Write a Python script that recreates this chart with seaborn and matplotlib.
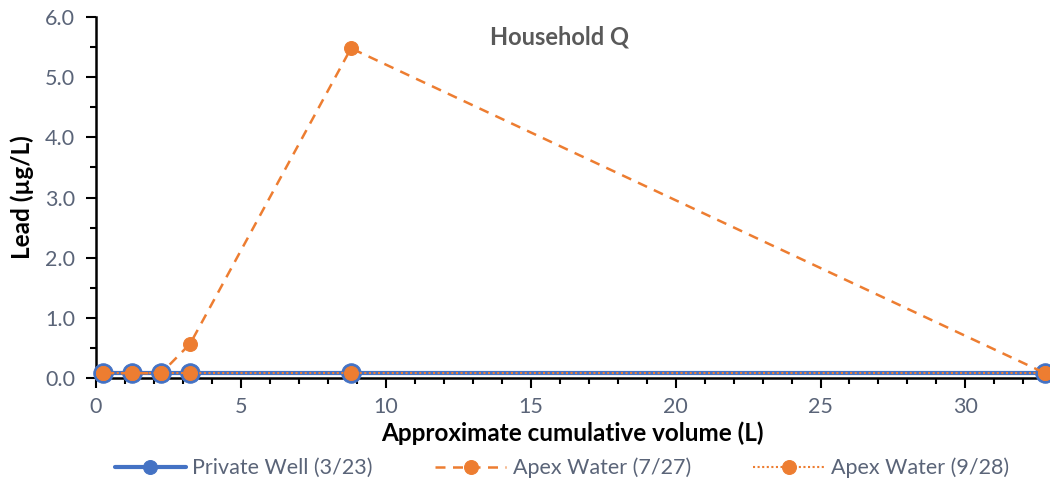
import matplotlib
matplotlib.use("Agg")
import matplotlib.pyplot as plt
import seaborn as sns
import pandas as pd
from matplotlib.ticker import MultipleLocator

volume = [0.25, 1.25, 2.25, 3.25, 8.8, 32.75]
private_well = [0.08, 0.08, 0.08, 0.08, 0.08, 0.08]
apex_0727 = [0.08, 0.08, 0.08, 0.57, 5.48, 0.08]
apex_0928 = [0.08, 0.08, 0.08, 0.08, 0.08, 0.08]
labels = ["Private Well (3/23)", "Apex Water (7/27)", "Apex Water (9/28)"]

sns.set_theme(style="white")
plt.rcParams["font.family"] = ["Lato", "DejaVu Sans"]

BLUE = "#4472C4"
ORANGE = "#ED7D31"
TICK = "#5a6478"

fig = plt.figure(figsize=(10.5, 4.86), dpi=100)
ax = fig.add_axes([96/1050, 1-378/486, (1048-96)/1050, (378-17)/486])

df1 = pd.DataFrame({"x": volume, "y": private_well})
df2 = pd.DataFrame({"x": volume, "y": apex_0727})
df3 = pd.DataFrame({"x": volume, "y": apex_0928})

sns.lineplot(data=df1, x="x", y="y", ax=ax, color=BLUE, lw=3, marker="o",
             markersize=14, markerfacecolor=BLUE, markeredgecolor=BLUE,
             label=labels[0], zorder=3, clip_on=False)
sns.lineplot(data=df2, x="x", y="y", ax=ax, color=ORANGE, lw=1.8, marker="o",
             markersize=10, markerfacecolor=ORANGE, markeredgecolor=ORANGE,
             dashes=(4, 3), label=labels[1], zorder=4, clip_on=False)
sns.lineplot(data=df3, x="x", y="y", ax=ax, color=ORANGE, lw=1.5, marker="o",
             markersize=10, markerfacecolor=ORANGE, markeredgecolor=ORANGE,
             dashes=(1, 1.2), label=labels[2], zorder=5, clip_on=False)

ax.set_xlim(0, 32.85)
ax.set_ylim(0, 6.0)
ax.xaxis.set_major_locator(MultipleLocator(5))
ax.xaxis.set_minor_locator(MultipleLocator(1))
ax.yaxis.set_major_locator(MultipleLocator(1))
ax.yaxis.set_minor_locator(MultipleLocator(0.5))
ax.yaxis.set_major_formatter(matplotlib.ticker.FormatStrFormatter("%.1f"))

for s in ["top", "right"]:
    ax.spines[s].set_visible(False)
for s in ["left", "bottom"]:
    ax.spines[s].set_color("black")
    ax.spines[s].set_linewidth(1.8)

ax.tick_params(axis="both", which="major", direction="out", length=7, width=1.5,
               color="black", labelsize=15.5, labelcolor=TICK, bottom=True, left=True)
ax.tick_params(axis="both", which="minor", direction="out", length=4, width=1.5,
               color="black", bottom=True, left=True)
ax.tick_params(axis="x", which="major", pad=7)
ax.tick_params(axis="y", which="major", pad=8)

ax.set_xlabel("Approximate cumulative volume (L)", fontsize=17.5, fontweight="bold",
              color="black", labelpad=3)
ax.set_ylabel("Lead (µg/L)", fontsize=17.5, fontweight="bold", color="black", labelpad=8)
ax.text(0.487, 0.945, "Household Q", transform=ax.transAxes, ha="center", va="center",
        fontsize=17, fontweight="bold", color="#595959")

leg = ax.legend(loc="center", bbox_to_anchor=(562/1050, 1-468/486),
                bbox_transform=fig.transFigure, ncol=3, frameon=False,
                fontsize=15.5, handlelength=3.3, columnspacing=2.9, handletextpad=0.3,
                borderaxespad=0, borderpad=0)
for t in leg.get_texts():
    t.set_color(TICK)
for h in leg.legend_handles:
    h.set_markersize(10)

fig.savefig("out.png", dpi=100)
